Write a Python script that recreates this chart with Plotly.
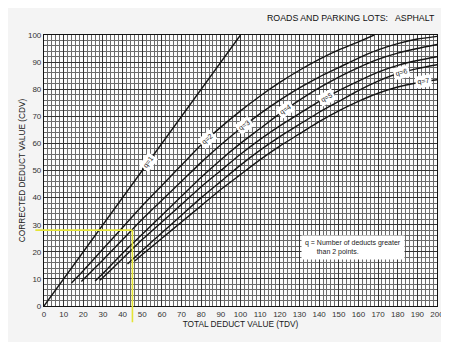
import numpy as np
import plotly.graph_objects as go

# ---------------- data ----------------
tdv_q1 = [0, 100]
cdv_q1 = [0, 100]

tdv_q2 = [14, 20, 30, 40, 50, 60, 70, 80, 90, 100, 110, 120, 130, 140, 150, 160, 168]
cdv_q2 = [8.5, 13, 21, 29, 37, 44.5, 52, 59.5, 66, 72, 77.5, 82.5, 87, 91, 94.5, 97.5, 100]

tdv_q3 = [19, 30, 40, 50, 60, 70, 80, 90, 100, 110, 120, 130, 140, 150, 160, 170, 180, 190, 200]
cdv_q3 = [9, 17, 24.5, 32, 39, 46, 53, 59.5, 65.5, 71, 76, 80.5, 84.5, 88, 91.5, 94.5, 96.8, 98.5, 99.5]

tdv_q4 = [26, 30, 40, 50, 60, 70, 80, 90, 100, 110, 120, 130, 140, 150, 160, 170, 180, 190, 200]
cdv_q4 = [9.2, 12, 19.5, 26.5, 33.5, 40.5, 47.5, 54, 60, 65.5, 71, 76, 80.5, 84.5, 88, 91, 93.3, 95, 96.5]

tdv_q5 = [28.5, 30, 40, 50, 60, 70, 80, 90, 100, 110, 120, 130, 140, 150, 160, 170, 180, 190, 200]
cdv_q5 = [9.5, 10.5, 17.5, 24.5, 31, 37.5, 44, 50, 56, 61.5, 66.5, 71, 75.5, 79.5, 83, 86.3, 88.8, 90.6, 92]

tdv_q6 = [42.5, 50, 60, 70, 80, 90, 100, 110, 120, 130, 140, 150, 160, 170, 180, 190, 200]
cdv_q6 = [15.5, 20.5, 27, 33.5, 40, 46, 52, 57.5, 62.5, 67, 71.5, 75.5, 79.5, 83, 85.8, 87.6, 89]

tdv_q7 = [46, 50, 60, 70, 80, 90, 100, 110, 120, 130, 140, 150, 160, 170, 180, 190, 200]
cdv_q7 = [16.5, 19, 25, 31, 37, 43, 48.5, 54, 59, 63.5, 68, 72, 75.5, 78.5, 80.8, 82.4, 83.5]

curve_names = ["q=1", "q=2", "q=3", "q=4", "q=5", "q=6", "q=7"]
label_tdv = [53, 83, 102, 123, 144, 182, 193]

example_tdv = 45
example_cdv = 28

x_ticks = list(range(0, 201, 10))
y_ticks = list(range(0, 101, 10))

title_text = "ROADS AND PARKING LOTS:   ASPHALT"
x_title = "TOTAL DEDUCT VALUE (TDV)"
y_title = "CORRECTED DEDUCT VALUE (CDV)"
note_text = "q = Number of deducts greater<br>      than 2 points."
note_tdv, note_cdv = 157, 21.5

# ---------------- figure ----------------
curves = [(tdv_q1, cdv_q1), (tdv_q2, cdv_q2), (tdv_q3, cdv_q3), (tdv_q4, cdv_q4),
          (tdv_q5, cdv_q5), (tdv_q6, cdv_q6), (tdv_q7, cdv_q7)]

# the page body has an 8px margin, so the figure is a little smaller than the window
W, H = 441, 334
ml, mr, mt, mb = 36, 5, 27, 36
xr = (0, 200)
yr = (0, 100)
px_per_x = (W - ml - mr) / (xr[1] - xr[0])
px_per_y = (H - mt - mb) / (yr[1] - yr[0])

fig = go.Figure()
font_main = "Liberation Sans Narrow, Liberation Sans, Arial, sans-serif"

for name, (tx, cy) in zip(curve_names, curves):
    fig.add_trace(go.Scatter(x=tx, y=cy, mode="lines", name=name,
                             line=dict(color="#151515", width=1.4, shape="spline", smoothing=0.6),
                             showlegend=False, hoverinfo="skip"))

annotations = []
for name, (tx, cy), lt in zip(curve_names, curves, label_tdv):
    ly = float(np.interp(lt, tx, cy))
    ly2 = float(np.interp(lt + 2, tx, cy))
    ly1 = float(np.interp(lt - 2, tx, cy))
    slope = (ly2 - ly1) / 4.0
    ang = -np.degrees(np.arctan(slope * px_per_y / px_per_x))
    annotations.append(dict(x=lt, y=ly, xref="x", yref="y", text=name, showarrow=False,
                            textangle=float(ang), bgcolor="white", borderpad=1.5,
                            font=dict(size=7, color="#222", family=font_main)))

annotations.append(dict(x=note_tdv, y=note_cdv, xref="x", yref="y", text=note_text,
                        showarrow=False, align="left", bgcolor="white", borderpad=3,
                        font=dict(size=7, color="#222", family=font_main)))

annotations.append(dict(x=1, y=1, xref="paper", yref="paper", yshift=10, xanchor="right",
                        yanchor="bottom", text=title_text, showarrow=False,
                        font=dict(size=8.8, color="#111", family=font_main)))

# yellow example lines (paper coordinates derived from the data)
xp = (example_tdv - xr[0]) / (xr[1] - xr[0])
yp = (example_cdv - yr[0]) / (yr[1] - yr[0])
shapes = [
    dict(type="line", xref="paper", yref="paper", x0=-0.022, x1=xp, y0=yp, y1=yp,
         line=dict(color="#e4e436", width=1.6)),
    dict(type="line", xref="paper", yref="paper", x0=xp, x1=xp, y0=yp, y1=-0.06,
         line=dict(color="#e4e436", width=1.6)),
]

axis_common = dict(showline=True, linecolor="#111", linewidth=1.2, mirror=True,
                   ticks="", zeroline=False, showgrid=True, gridcolor="#333", gridwidth=1,
                   ticklabeloverflow="allow",
                   tickfont=dict(size=8, color="#333", family=font_main))

fig.update_layout(
    width=W, height=H,
    margin=dict(l=ml, r=mr, t=mt, b=mb),
    paper_bgcolor="#f4f4f4",
    plot_bgcolor="#fbfbfb",
    xaxis=dict(range=list(xr), tickvals=x_ticks, ticktext=[str(v) for v in x_ticks],
               title=dict(text=x_title, standoff=2, font=dict(size=8.3, color="#1a1a1a", family=font_main)),
               minor=dict(dtick=2, showgrid=True, gridcolor="#6a6a6a", gridwidth=1),
               **axis_common),
    yaxis=dict(range=list(yr), tickvals=y_ticks, ticktext=[str(v) for v in y_ticks],
               title=dict(text=y_title, standoff=1, font=dict(size=8.3, color="#1a1a1a", family=font_main)),
               minor=dict(dtick=2, showgrid=True, gridcolor="#6a6a6a", gridwidth=1),
               **axis_common),
    annotations=annotations,
    shapes=shapes,
)

fig.write_html("out.html")
